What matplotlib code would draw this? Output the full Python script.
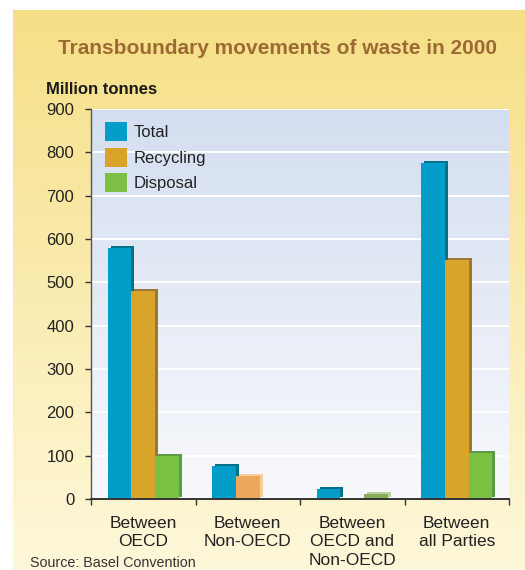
import numpy as np
import matplotlib
matplotlib.use("Agg")
import matplotlib.pyplot as plt
from matplotlib.colors import LinearSegmentedColormap
from matplotlib.transforms import ScaledTranslation
from matplotlib.patches import Patch

plt.rcParams['font.family'] = ['Liberation Sans', 'DejaVu Sans']

# --- data (million tonnes) ---
categories = ["Between\nOECD", "Between\nNon-OECD", "Between\nOECD and\nNon-OECD", "Between\nall Parties"]
total = [580, 76, 23, 775]
recycling = [480, 53, None, 552]
disposal = [100, None, 12, 106]
yticks = [0, 100, 200, 300, 400, 500, 600, 700, 800, 900]

# face / shadow colours per series; estimated bars are drawn in softer tones
series = [
    ("Total", total, "#049CC8", "#08718A", {}),
    ("Recycling", recycling, "#D8A52A", "#9E7637", {1: ("#EBA85A", "#F6CD9B")}),
    ("Disposal", disposal, "#7CC043", "#5B9A47", {2: ("#88AD5B", "#BAD29C")}),
]

W, H, DPI = 525, 570, 100
fig = plt.figure(figsize=(W / DPI, H / DPI), dpi=DPI, facecolor="white")

# yellow panel behind everything
bg = fig.add_axes([13 / W, 0, 1 - 13 / W, 1 - 10 / H])
bg.set_axis_off()
ycmap = LinearSegmentedColormap.from_list("y", ["#FEF8DA", "#F6DF86"])
bg.imshow(np.linspace(0, 1, 256).reshape(-1, 1), aspect="auto", cmap=ycmap,
          origin="lower", extent=[0, 1, 0, 1])
bg.set_xlim(0, 1)
bg.set_ylim(0, 1)

# plot area
left, right, top, bottom = 91, 509, 109, 499
ax = fig.add_axes([left / W, 1 - bottom / H, (right - left) / W, (bottom - top) / H])
ax.set_xlim(-0.5, 3.5)
ax.set_ylim(0, 900)

bcmap = LinearSegmentedColormap.from_list("b", ["#F8F9FC", "#D3DEF0"])
ax.imshow(np.linspace(0, 1, 256).reshape(-1, 1), aspect="auto", cmap=bcmap,
          origin="lower", extent=[-0.5, 3.5, 0, 900], zorder=0)

for yv in yticks[1:]:
    ax.axhline(yv, color="white", lw=1.4, zorder=1)

bw = 0.226
x = np.arange(len(categories))
shadow_tr = ax.transData + ScaledTranslation(3 / DPI, 2 / DPI, fig.dpi_scale_trans)

for i, (name, vals, face, shade, overrides) in enumerate(series):
    off = (i - 1) * bw
    for j, v in enumerate(vals):
        if v is None:
            continue
        f, s = overrides.get(j, (face, shade))
        ax.bar(x[j] + off, v, bw, color=s, zorder=2 + 2 * i, transform=shadow_tr,
               linewidth=0)
        ax.bar(x[j] + off, v, bw, color=f, zorder=3 + 2 * i, linewidth=0)

# axes styling
for sp in ("top", "right"):
    ax.spines[sp].set_visible(False)
ax.spines["left"].set_color("#555555")
ax.spines["left"].set_linewidth(1.0)
ax.spines["bottom"].set_color("#333333")
ax.spines["bottom"].set_linewidth(1.4)
ax.spines["bottom"].set_zorder(20)

ax.set_yticks(yticks)
ax.set_yticklabels([str(t) for t in yticks])
ax.tick_params(axis="y", direction="out", length=4, width=1, color="#333333",
               labelsize=12, labelcolor="#222222", pad=8)

ax.set_xticks(x)
ax.set_xticklabels(categories, fontsize=12.5, color="#222222", linespacing=1.3,
                   va="top")
ax.tick_params(axis="x", which="major", length=0, pad=12)
ax.set_xticks(np.arange(-0.5, 4.0, 1.0), minor=True)
ax.tick_params(axis="x", which="minor", direction="out", length=4, width=1,
               color="#333333")

handles = [Patch(facecolor=c, edgecolor="none", label=n) for n, _, c, _, _ in series]
leg = ax.legend(handles=handles, loc="upper left",
                bbox_to_anchor=((105 - left) / (right - left), 1 - (122 - top) / (bottom - top)),
                frameon=False, fontsize=12, handlelength=1.3, handleheight=1.4,
                handletextpad=0.4, labelspacing=0.38, borderpad=0, borderaxespad=0)
for t in leg.get_texts():
    t.set_color("#222222")
leg.set_zorder(30)

fig.text(277 / W, 1 - 48 / H, "Transboundary movements of waste in 2000",
         ha="center", va="center", fontsize=15, fontweight="bold", color="#9C6B34")
fig.text(46 / W, 1 - 89 / H, "Million tonnes", ha="left", va="center",
         fontsize=12, fontweight="bold", color="#1A1A1A")
fig.text(30 / W, 1 - 563 / H, "Source: Basel Convention", ha="left", va="center",
         fontsize=10.3, color="#333333")

fig.savefig("out.png", dpi=DPI, facecolor="white")
